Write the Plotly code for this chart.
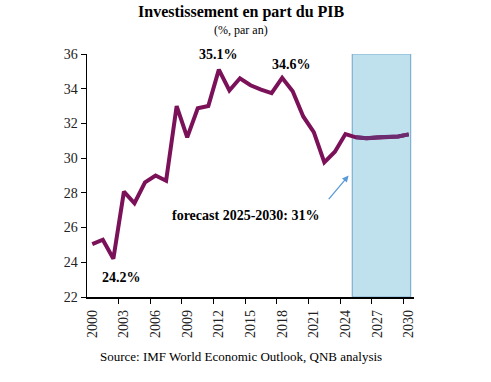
import plotly.graph_objects as go

years = list(range(2000, 2031))
investment = [25.05, 25.3, 24.2, 28.07, 27.4, 28.6, 29.0, 28.7, 33.0, 31.2,
              32.87, 33.0, 35.1, 33.9, 34.6, 34.2, 33.95, 33.75, 34.63, 33.85,
              32.4, 31.5, 29.76, 30.37, 31.39, 31.2, 31.15, 31.2, 31.2, 31.25, 31.37]
forecast_years = years[24:]
forecast_vals = investment[24:]
label_years = list(range(2000, 2031, 3))
minor_ticks = [y + 2.5 for y in range(2000, 2030, 3)]
box_x = [2024.65, 2030.18]

SERIF = "Liberation Serif, Times New Roman, serif"
LINE = "#7B1259"

W, H = 491, 382
ML, MR, MT, MB = 87, 77, 54, 85

fig = go.Figure()
fig.add_trace(go.Scatter(x=years, y=investment, mode="lines",
                         line=dict(color=LINE, width=4), showlegend=False,
                         hoverinfo="skip"))
fig.add_trace(go.Scatter(x=forecast_years[1:], y=forecast_vals[1:], mode="lines",
                         line=dict(color="#6C2C6F", width=4), showlegend=False,
                         hoverinfo="skip"))

fig.add_shape(type="rect", xref="x", yref="y", x0=box_x[0], x1=box_x[1], y0=22, y1=36,
              fillcolor="#BFE1EE", line=dict(color="#7FAFD0", width=1.2), layer="below")

fig.update_layout(
    width=W, height=H,
    margin=dict(l=ML, r=MR, t=MT, b=MB, autoexpand=False),
    paper_bgcolor="white", plot_bgcolor="white",
    font=dict(family=SERIF, color="#111", size=13),
    xaxis=dict(range=[1999.5, 2030.5], tickvals=label_years,
               ticktext=[str(y) for y in label_years], tickangle=-90,
               ticks="outside", ticklen=0, ticklabelstandoff=6,
               showgrid=False, zeroline=False,
               showline=True, linecolor="#000", linewidth=1.5,
               tickfont=dict(family=SERIF, size=14, color="#222"),
               minor=dict(tickvals=minor_ticks, ticks="outside", ticklen=5,
                          tickcolor="#000", tickwidth=1, showgrid=False)),
    yaxis=dict(range=[22, 36], dtick=2, ticks="outside", ticklen=5,
               tickcolor="#000", showgrid=False, zeroline=False,
               showline=True, linecolor="#000", linewidth=1.5,
               tickfont=dict(family=SERIF, size=14, color="#222")),
)


def paper_ann(px, py, text, size, bold=False):
    # pixel position -> paper coords
    xp = (px - ML) / (W - ML - MR)
    yp = (H - MB - py) / (H - MT - MB)
    fig.add_annotation(x=xp, y=yp, xref="paper", yref="paper", showarrow=False,
                       xanchor="center", yanchor="middle",
                       text=f"<b>{text}</b>" if bold else text,
                       font=dict(family=SERIF, size=size, color="#000"))


paper_ann(241, 12, "Investissement en part du PIB", 16, bold=True)
paper_ann(241, 30, "(%, par an)", 12)
paper_ann(241, 356, "Source: IMF World Economic Outlook, QNB analysis", 13)

fig.add_annotation(x=2012.0, y=35.1, text="<b>35.1%</b>", showarrow=False,
                   yshift=15, font=dict(family=SERIF, size=14, color="#000"))
fig.add_annotation(x=2018.9, y=34.63, text="<b>34.6%</b>", showarrow=False,
                   yshift=13, font=dict(family=SERIF, size=14, color="#000"))
fig.add_annotation(x=2002.8, y=24.2, text="<b>24.2%</b>", showarrow=False,
                   yshift=-19, font=dict(family=SERIF, size=14, color="#000"))
fig.add_annotation(x=2014.6, y=26.7, text="<b>forecast 2025-2030: 31%</b>", showarrow=False,
                   font=dict(family=SERIF, size=14, color="#000"))
fig.add_annotation(x=2024.3, y=29.0, ax=2022.3, ay=27.55, xref="x", yref="y",
                   axref="x", ayref="y", text="", showarrow=True, arrowhead=2,
                   arrowsize=1, arrowwidth=1.3, arrowcolor="#5B9BD5")

fig.write_html("out.html", config={"displayModeBar": False, "staticPlot": True},
               post_script="document.body.style.margin='0';document.body.style.overflow='hidden';")
